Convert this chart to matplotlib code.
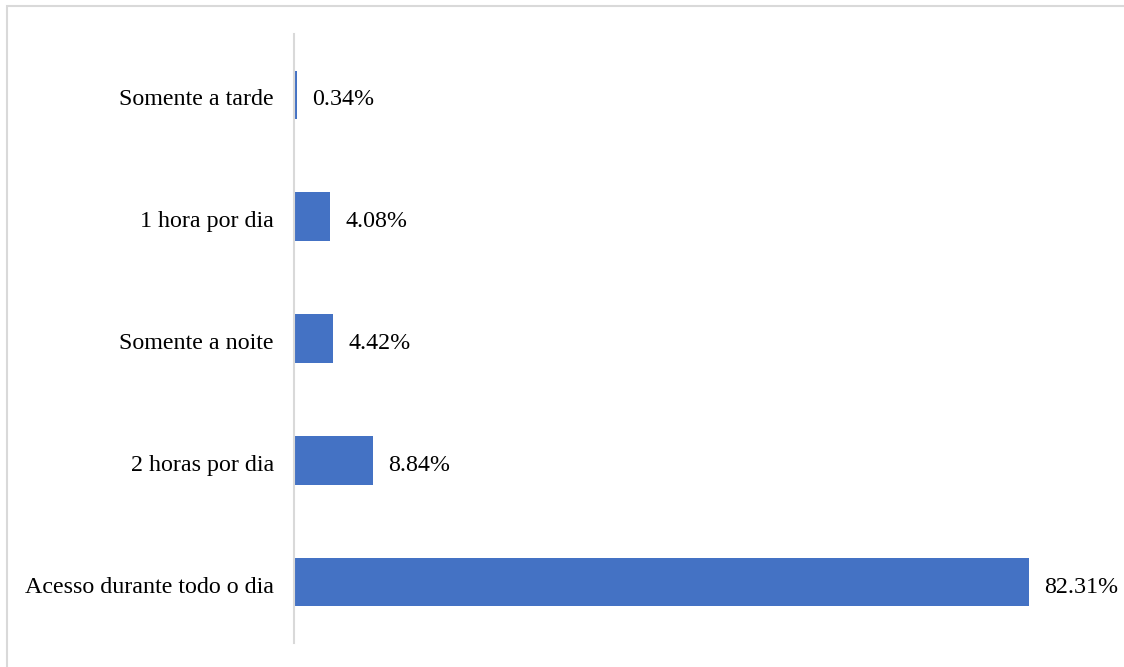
import matplotlib.pyplot as plt
from matplotlib.patches import Rectangle

categories = ['Acesso durante todo o dia', '2 horas por dia', 'Somente a noite',
              '1 hora por dia', 'Somente a tarde']
values = [82.31, 8.84, 4.42, 4.08, 0.34]
labels = ['82.31%', '8.84%', '4.42%', '4.08%', '0.34%']

plt.rcParams['font.family'] = ['Liberation Serif', 'DejaVu Serif']

W, H = 1124, 667
fig = plt.figure(figsize=(W / 100, H / 100), dpi=100)

# light frame around the chart area (only left/top visible in the original)
fig.patches.append(Rectangle((7 / W, -0.1), 1.2, 1 - 6 / H + 0.1,
                             transform=fig.transFigure, fill=False,
                             edgecolor='#d9d9d9', linewidth=1.5))

ax = fig.add_axes([294 / W, 1 - 643 / H, (1029 - 294) / W, (643 - 34) / H])
y = range(len(categories))
ax.barh(y, values, height=0.4, color='#4472C4')
ax.set_xlim(0, 82.31)
ax.set_ylim(-0.5, 4.5)
ax.set_yticks([])
ax.set_xticks([])
for s in ['top', 'right', 'bottom']:
    ax.spines[s].set_visible(False)
ax.spines['left'].set_color('#d9d9d9')
ax.spines['left'].set_linewidth(1.5)

fs = 17.3
for yi, cat in zip(y, categories):
    ax.annotate(cat, (0, yi), xytext=(-14.5, -7.5), textcoords='offset points',
                va='baseline', ha='right', fontsize=fs, annotation_clip=False)

for yi, v, lab in zip(y, values, labels):
    ax.annotate(lab, (v, yi), xytext=(11, -7.5), textcoords='offset points',
                va='baseline', ha='left', fontsize=fs, annotation_clip=False)

fig.savefig('out.png', dpi=100)
